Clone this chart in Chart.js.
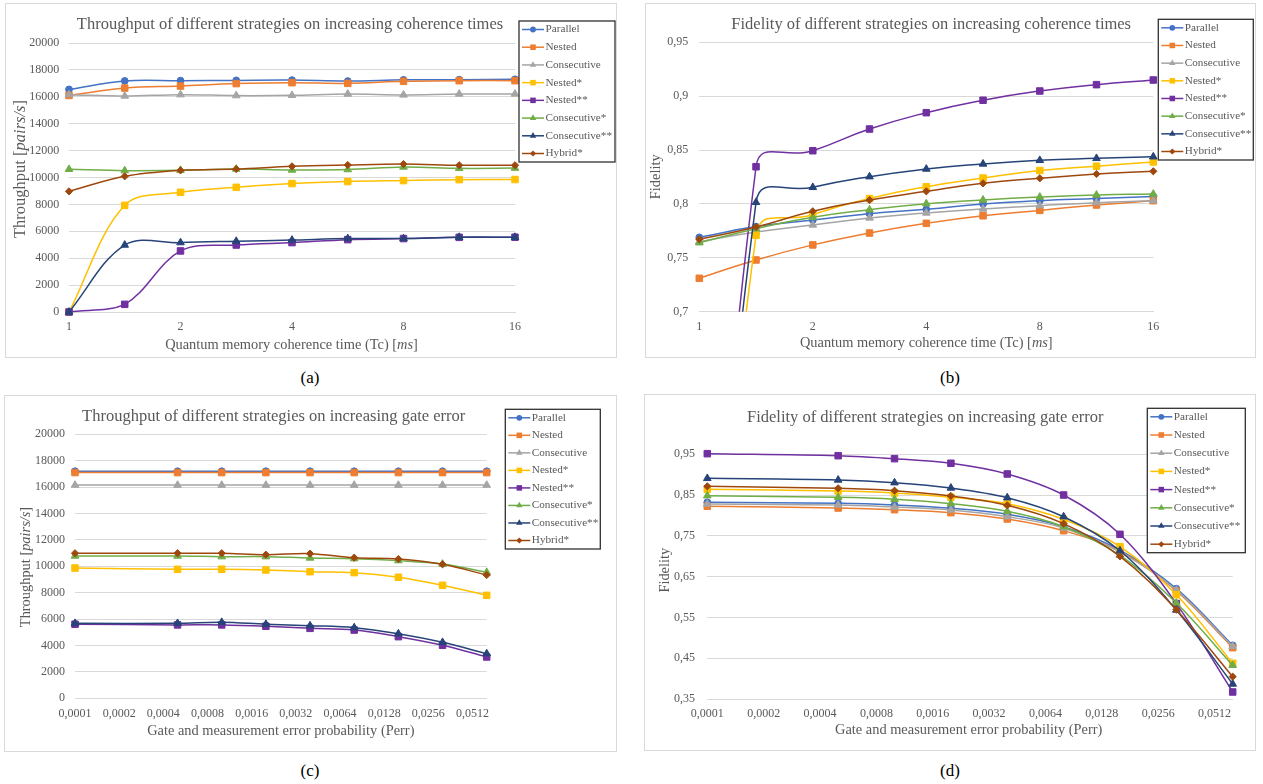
<!DOCTYPE html>
<html>
<head>
<meta charset="utf-8">
<script src="https://cdn.jsdelivr.net/npm/chart.js@4.4.1/dist/chart.umd.min.js"></script>
<style>
  body { margin: 0; background: #fff; width: 1263px; height: 784px; position: relative; overflow: hidden; font-family: 'Liberation Serif', serif; }
  canvas { position: absolute; }
  .cap { position: absolute; font-size: 17px; color: #000; transform: translate(-50%, -50%); white-space: nowrap; }
</style>
</head>
<body>
<canvas id="chartA" width="612" height="355" style="left:5px;top:3px"></canvas>
<canvas id="chartB" width="611" height="355" style="left:645px;top:3px"></canvas>
<canvas id="chartC" width="613" height="357" style="left:4px;top:395px"></canvas>
<canvas id="chartD" width="612" height="357" style="left:644px;top:394px"></canvas>
<div class="cap" style="left:310px;top:378px">(a)</div>
<div class="cap" style="left:950px;top:378px">(b)</div>
<div class="cap" style="left:310px;top:771px">(c)</div>
<div class="cap" style="left:950px;top:771px">(d)</div>
<script>
// Achsen / x-Werte
const coherenceTimes = [1, 1.414, 2, 2.828, 4, 5.657, 8, 11.31, 16];
const coherenceTicks = [1, 2, 4, 8, 16];
const errorProbs = [0.0001, 0.0005, 0.001, 0.002, 0.004, 0.008, 0.016, 0.032, 0.064];
const errorTicks = [0.0001, 0.0002, 0.0004, 0.0008, 0.0016, 0.0032, 0.0064, 0.0128, 0.0256, 0.0512];
const throughputTicks = [0, 2000, 4000, 6000, 8000, 10000, 12000, 14000, 16000, 18000, 20000];
const fidelityTcTicks = [0.7, 0.75, 0.8, 0.85, 0.9, 0.95];
const fidelityErrTicks = [0.35, 0.45, 0.55, 0.65, 0.75, 0.85, 0.95];

const strategies = ['Parallel', 'Nested', 'Consecutive', 'Nested*', 'Nested**', 'Consecutive*', 'Consecutive**', 'Hybrid*'];

// (a) Throughput vs. coherence time
const tpTcParallel      = [16550, 17180, 17200, 17220, 17240, 17170, 17260, 17270, 17300];
const tpTcNested        = [16100, 16650, 16800, 16980, 17050, 17000, 17150, 17200, 17200];
const tpTcConsecutive   = [16160, 16060, 16160, 16090, 16110, 16210, 16140, 16210, 16210];
const tpTcNested1       = [0, 7930, 8900, 9270, 9550, 9700, 9770, 9840, 9850];
const tpTcNested2       = [0, 570, 4540, 4980, 5160, 5380, 5460, 5550, 5560];
const tpTcConsecutive1  = [10610, 10510, 10540, 10630, 10560, 10590, 10780, 10680, 10700];
const tpTcConsecutive2  = [0, 4980, 5160, 5260, 5350, 5460, 5460, 5560, 5560];
const tpTcHybrid1       = [8970, 10090, 10530, 10630, 10830, 10930, 11000, 10910, 10910];

// (b) Fidelity vs. coherence time
const fidTcParallel     = [0.769, 0.779, 0.785, 0.791, 0.795, 0.800, 0.803, 0.805, 0.807];
const fidTcNested       = [0.731, 0.748, 0.762, 0.773, 0.782, 0.789, 0.794, 0.799, 0.803];
const fidTcConsecutive  = [0.765, 0.774, 0.7805, 0.787, 0.7916, 0.7953, 0.7984, 0.8012, 0.803];
const fidTcNested1      = [0, 0.771, 0.790, 0.805, 0.816, 0.824, 0.831, 0.835, 0.839];
const fidTcNested2      = [0, 0.8345, 0.8494, 0.8695, 0.8847, 0.8962, 0.9048, 0.9107, 0.915];
const fidTcConsecutive1 = [0.764, 0.777, 0.7876, 0.7946, 0.8002, 0.8037, 0.8064, 0.8083, 0.8092];
const fidTcConsecutive2 = [0, 0.8015, 0.8154, 0.8253, 0.8324, 0.8371, 0.8405, 0.8423, 0.8438];
const fidTcHybrid1      = [0.7672, 0.7786, 0.7932, 0.8036, 0.8117, 0.8191, 0.8238, 0.8278, 0.8303];

// (c) Throughput vs. gate error
const tpErrParallel     = [17200, 17200, 17200, 17200, 17200, 17200, 17200, 17200, 17200];
const tpErrNested       = [17100, 17100, 17100, 17100, 17100, 17100, 17100, 17100, 17100];
const tpErrConsecutive  = [16150, 16150, 16150, 16150, 16150, 16150, 16150, 16150, 16150];
const tpErrNested1      = [9870, 9770, 9780, 9720, 9590, 9520, 9170, 8560, 7800];
const tpErrNested2      = [5610, 5560, 5560, 5460, 5300, 5170, 4670, 4020, 3130];
const tpErrConsecutive1 = [10780, 10780, 10730, 10730, 10630, 10580, 10430, 10170, 9550];
const tpErrConsecutive2 = [5680, 5680, 5760, 5610, 5500, 5350, 4890, 4240, 3380];
const tpErrHybrid1      = [10990, 10990, 10990, 10880, 10960, 10650, 10550, 10150, 9340];

// (d) Fidelity vs. gate error
const fidErrParallel     = [0.8323, 0.8298, 0.8257, 0.8176, 0.8029, 0.7725, 0.715, 0.6205, 0.4816];
const fidErrNested       = [0.8225, 0.8183, 0.8142, 0.8069, 0.7914, 0.7627, 0.712, 0.615, 0.4758];
const fidErrConsecutive  = [0.828, 0.8257, 0.8208, 0.8134, 0.797, 0.7693, 0.710, 0.617, 0.4791];
const fidErrNested1      = [0.864, 0.860, 0.8551, 0.8446, 0.829, 0.7906, 0.7235, 0.6058, 0.4375];
const fidErrNested2      = [0.9515, 0.9466, 0.9393, 0.928, 0.9017, 0.8502, 0.7538, 0.584, 0.3672];
const fidErrConsecutive1 = [0.8485, 0.8445, 0.8397, 0.829, 0.8102, 0.7725, 0.7023, 0.5854, 0.4326];
const fidErrConsecutive2 = [0.891, 0.887, 0.8804, 0.8674, 0.8436, 0.797, 0.7136, 0.5682, 0.3868];
const fidErrHybrid1      = [0.8715, 0.8666, 0.8608, 0.8478, 0.825, 0.7799, 0.6998, 0.569, 0.4048];

// Stil (Excel-Farben)
const colors = ['#4472C4', '#ED7D31', '#A5A5A5', '#FFC000', '#7030A0', '#70AD47', '#264478', '#9E480E'];
const markers = ['circle', 'rect', 'triangle', 'rect', 'rect', 'triangle', 'triangle', 'rectRot'];
const markerRadius = { circle: 3.4, rect: 4.6, triangle: 4.4, rectRot: 3.6 };
const FONT = "'Liberation Serif'";
const TEXT = '#595959';
const GRID = '#d9d9d9';

const fmtNum = v => String(v).replace('.', ',');

function drawMarker(ctx, style, x, y, r) {
  ctx.beginPath();
  if (style === 'circle') {
    ctx.arc(x, y, r, 0, Math.PI * 2);
  } else if (style === 'rect') {
    const s = r * Math.SQRT1_2;
    ctx.rect(x - s, y - s, 2 * s, 2 * s);
  } else if (style === 'triangle') {
    for (let k = 0; k < 3; k++) {
      const a = k * 2 * Math.PI / 3;
      const px = x + Math.sin(a) * r, py = y - Math.cos(a) * r;
      k ? ctx.lineTo(px, py) : ctx.moveTo(px, py);
    }
    ctx.closePath();
  } else {
    ctx.moveTo(x - r, y); ctx.lineTo(x, y - r); ctx.lineTo(x + r, y); ctx.lineTo(x, y + r);
    ctx.closePath();
  }
  ctx.fill();
}

function drawRich(ctx, parts, x, y, size, vertical) {
  ctx.save();
  ctx.translate(x, y);
  if (vertical) ctx.rotate(-Math.PI / 2);
  ctx.fillStyle = TEXT;
  ctx.textBaseline = 'middle';
  ctx.textAlign = 'left';
  const fonts = parts.map(p => (p[1] ? 'italic ' : '') + size + 'px ' + FONT);
  const widths = parts.map((p, i) => { ctx.font = fonts[i]; return ctx.measureText(p[0]).width; });
  let cx = -widths.reduce((a, b) => a + b, 0) / 2;
  parts.forEach((p, i) => { ctx.font = fonts[i]; ctx.fillText(p[0], cx, 0); cx += widths[i]; });
  ctx.restore();
}

// Rahmen, Titel, Achsentitel und Legende wie im Excel-Diagramm
const panelDecor = {
  id: 'panelDecor',
  beforeDraw(chart) {
    const ctx = chart.ctx;
    ctx.save();
    ctx.fillStyle = '#fff';
    ctx.fillRect(0, 0, chart.width, chart.height);
    ctx.strokeStyle = GRID;
    ctx.lineWidth = 1;
    ctx.strokeRect(0.5, 0.5, chart.width - 1, chart.height - 1);
    ctx.restore();
  },
  afterDraw(chart, args, o) {
    const ctx = chart.ctx;
    drawRich(ctx, [[o.title, false]], o.titlePos[0], o.titlePos[1], 16.5, false);
    drawRich(ctx, o.xTitle, o.xTitlePos[0], o.xTitlePos[1], 14.4, false);
    drawRich(ctx, o.yTitle, o.yTitlePos[0], o.yTitlePos[1], o.yTitleSize, true);

    const b = o.legend;
    const sets = chart.data.datasets;
    ctx.save();
    ctx.fillStyle = '#fff';
    ctx.fillRect(b.x, b.y, b.w, b.h);
    ctx.strokeStyle = '#303030';
    ctx.lineWidth = 1.3;
    ctx.strokeRect(b.x, b.y, b.w, b.h);
    const pitch = (b.h - 17) / (sets.length - 1);
    sets.forEach((ds, i) => {
      const cy = b.y + 8.5 + i * pitch;
      ctx.strokeStyle = ds.borderColor;
      ctx.lineWidth = 1.5;
      ctx.beginPath();
      ctx.moveTo(b.x + 3, cy);
      ctx.lineTo(b.x + 25, cy);
      ctx.stroke();
      ctx.fillStyle = ds.backgroundColor;
      drawMarker(ctx, ds.pointStyle, b.x + 14, cy, ds.pointRadius * 0.85);
      ctx.fillStyle = TEXT;
      ctx.font = '11.2px ' + FONT;
      ctx.textBaseline = 'middle';
      ctx.textAlign = 'left';
      ctx.fillText(ds.label, b.x + 26.5, cy);
    });
    ctx.restore();
  }
};

function buildDatasets(xs, seriesList, clip, tension) {
  return seriesList.map((ys, i) => ({
    label: strategies[i],
    data: ys.map((y, j) => ({ x: xs[j], y: y })),
    borderColor: colors[i],
    backgroundColor: colors[i],
    borderWidth: 1.5,
    pointStyle: markers[i],
    pointRadius: markerRadius[markers[i]],
    pointBorderWidth: 1,
    tension: tension,
    order: seriesList.length - i,
    clip: clip
  }));
}

function makePanel(id, p) {
  const canvas = document.getElementById(id);
  const W = canvas.width, H = canvas.height;
  return new Chart(canvas, {
    type: 'line',
    data: { datasets: buildDatasets(p.xs, p.series, p.clip, p.tension) },
    plugins: [panelDecor],
    options: {
      responsive: false,
      animation: false,
      events: [],
      devicePixelRatio: 1,
      layout: { padding: { left: 0, top: p.area[1], right: W - p.area[2], bottom: 0 } },
      elements: { line: { capBezierPoints: p.capBezier } },
      scales: {
        x: {
          type: 'logarithmic',
          min: p.xs[0],
          max: p.xs[p.xs.length - 1],
          afterBuildTicks: s => { s.ticks = p.xTicks.map(v => ({ value: v })); },
          afterFit: s => { s.height = H - p.area[3]; },
          grid: { display: false, drawTicks: false },
          border: { display: true, color: GRID },
          ticks: {
            autoSkip: false, maxRotation: 0, padding: 8, color: TEXT,
            font: { family: FONT, size: 12 },
            callback: v => fmtNum(v)
          }
        },
        y: {
          type: 'linear',
          min: p.yTicks[0],
          max: p.yTicks[p.yTicks.length - 1],
          afterBuildTicks: s => { s.ticks = p.yTicks.map(v => ({ value: v })); },
          afterFit: s => { s.width = p.area[0]; },
          grid: { color: GRID, drawTicks: false },
          border: { display: false },
          ticks: {
            padding: p.yPad, color: TEXT,
            font: { family: FONT, size: 12 },
            callback: v => fmtNum(v)
          }
        }
      },
      plugins: {
        legend: { display: false },
        title: { display: false },
        tooltip: { enabled: false },
        panelDecor: p.decor
      }
    }
  });
}

const xTitleTc = [['Quantum memory coherence time (Tc) [', false], ['ms', true], [']', false]];
const xTitleErr = [['Gate and measurement error probability (Perr)', false]];
const yTitleTp = [['Throughput [', false], ['pairs/s', true], [']', false]];
const yTitleFid = [['Fidelity', false]];

makePanel('chartA', {
  xs: coherenceTimes, xTicks: coherenceTicks, yTicks: throughputTicks,
  series: [tpTcParallel, tpTcNested, tpTcConsecutive, tpTcNested1, tpTcNested2, tpTcConsecutive1, tpTcConsecutive2, tpTcHybrid1],
  area: [64, 40, 510, 309], yPad: 9.7, clip: false, capBezier: true, tension: 0.35,
  decor: {
    title: 'Throughput of different strategies on increasing coherence times', titlePos: [285, 22],
    xTitle: xTitleTc, xTitlePos: [286.5, 342],
    yTitle: yTitleTp, yTitlePos: [15.7, 166], yTitleSize: 16.5,
    legend: { x: 514, y: 18, w: 96, h: 141 }
  }
});

makePanel('chartB', {
  xs: coherenceTimes, xTicks: coherenceTicks, yTicks: fidelityTcTicks,
  series: [fidTcParallel, fidTcNested, fidTcConsecutive, fidTcNested1, fidTcNested2, fidTcConsecutive1, fidTcConsecutive2, fidTcHybrid1],
  area: [54.3, 39.3, 508.3, 308.7], yPad: 11, clip: { left: 8, right: 8, top: 8, bottom: 0 }, capBezier: false, tension: 0.5,
  decor: {
    title: 'Fidelity of different strategies on increasing coherence times', titlePos: [286.2, 21.3],
    xTitle: xTitleTc, xTitlePos: [281.3, 340.3],
    yTitle: yTitleFid, yTitlePos: [11.7, 173.8], yTitleSize: 14.4,
    legend: { x: 513.3, y: 16.3, w: 95, h: 140.7 }
  }
});

makePanel('chartC', {
  xs: errorProbs, xTicks: errorTicks, yTicks: throughputTicks,
  series: [tpErrParallel, tpErrNested, tpErrConsecutive, tpErrNested1, tpErrNested2, tpErrConsecutive1, tpErrConsecutive2, tpErrHybrid1],
  area: [71, 39.3, 482.7, 303.3], yPad: 10, clip: false, capBezier: true, tension: 0.35,
  decor: {
    title: 'Throughput of different strategies on increasing gate error', titlePos: [269.7, 21.7],
    xTitle: xTitleErr, xTitlePos: [276.8, 336.7],
    yTitle: yTitleTp, yTitlePos: [22.7, 172], yTitleSize: 14.4,
    legend: { x: 501.3, y: 14.3, w: 95, h: 139.7 }
  }
});

makePanel('chartD', {
  xs: errorProbs, xTicks: errorTicks, yTicks: fidelityErrTicks,
  series: [fidErrParallel, fidErrNested, fidErrConsecutive, fidErrNested1, fidErrNested2, fidErrConsecutive1, fidErrConsecutive2, fidErrHybrid1],
  area: [63.3, 60.3, 588.7, 305], yPad: 12.3, clip: false, capBezier: true, tension: 0.35,
  decor: {
    title: 'Fidelity of different strategies on increasing gate error', titlePos: [281.3, 23.7],
    xTitle: xTitleErr, xTitlePos: [324.7, 336.7],
    yTitle: yTitleFid, yTitlePos: [21, 176.2], yTitleSize: 14.4,
    legend: { x: 503.3, y: 14.3, w: 98, h: 144.4 }
  }
});
</script>
</body>
</html>
